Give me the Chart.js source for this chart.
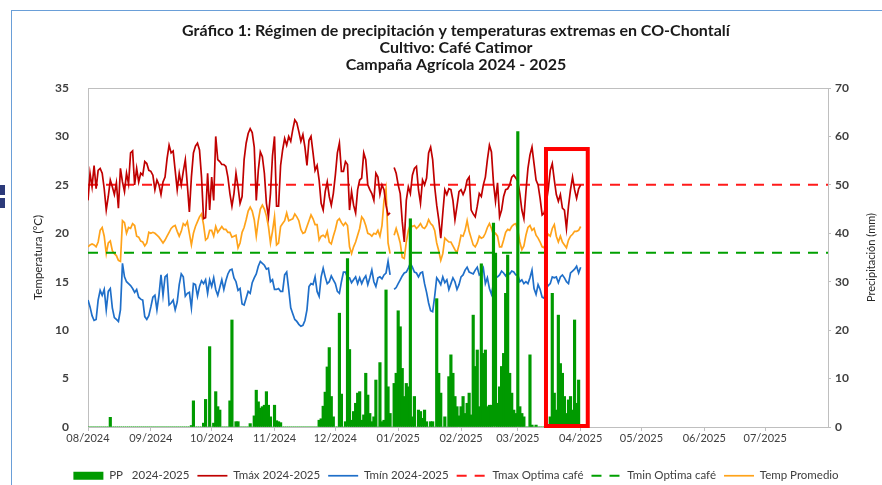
<!DOCTYPE html>
<html>
<head>
<meta charset="utf-8">
<title>Gráfico 1 - CO-Chontalí</title>
<script src="https://cdn.jsdelivr.net/npm/chart.js@4.4.1/dist/chart.umd.min.js"></script>
<style>
html, body { margin: 0; padding: 0; background: #fff; }
#wrap { position: relative; width: 882px; height: 485px; overflow: hidden; }
#frame { position: absolute; left: 11px; top: 10px; right: -2px; bottom: -2px;
         border-left: 1px solid #6a9fd8; border-top: 1px solid #6a9fd8; }
.mark { position: absolute; left: 0; width: 5px; height: 10px; background: #2c3a7a; }
#chart { position: absolute; left: 0; top: 0; }
</style>
</head>
<body>
<div id="wrap">
  <div id="frame"></div>
  <div class="mark" style="top:185px"></div>
  <div class="mark" style="top:198px"></div>
  <canvas id="chart" width="882" height="485"></canvas>
</div>
<script>
// etiquetas del eje x (inicio de cada mes, en dias desde 01/08/2024)
var monthLabels = ['08/2024', '09/2024', '10/2024', '11/2024', '12/2024', '01/2025',
                   '02/2025', '03/2025', '04/2025', '05/2025', '06/2025', '07/2025'];
var monthStarts = [0, 31, 61, 92, 122, 153, 184, 212, 243, 273, 304, 334];
var campaignDays = 365;

// temperaturas optimas del cafe
var tmaxOptima = 25;
var tminOptima = 18;

// temperatura maxima diaria (°C), 01/08/2024 - 01/04/2025
var tmax = [
  23.4, 26.2, 24.8, 27.0, 24.6, 26.5, 26.7, 26.2, 24.6, 22.4, 23.8, 25.5, 24.8, 24.0, 25.2, 22.6, 26.7, 25.3, 24.3, 26.2, 25.1, 28.3, 28.5, 25.0, 26.7, 25.3, 26.2, 26.0, 27.4, 27.2, 26.5, // ago
  26.4, 26.0, 24.5, 25.5, 25.0, 24.0, 25.3, 25.8, 27.7, 29.1, 28.3, 28.5, 26.5, 24.5, 26.2, 25.0, 26.4, 27.6, 25.0, 22.2, 25.8, 28.3, 29.0, 29.3, 28.6, 25.8, 21.5, 21.6, 26.2, 22.4, // sep
  25.8, 23.4, 30.0, 27.6, 27.4, 27.1, 27.1, 26.9, 25.8, 24.1, 22.8, 24.1, 26.2, 24.8, 23.1, 23.8, 27.6, 29.3, 30.3, 30.8, 30.4, 28.9, 23.4, 26.5, 28.4, 27.9, 26.2, 23.1, 21.7, 24.1, 28.0, // oct
  30.0, 22.8, 22.8, 27.0, 28.6, 29.8, 29.1, 30.0, 29.5, 30.7, 31.7, 31.4, 30.5, 29.5, 30.2, 28.9, 27.0, 29.6, 30.0, 28.3, 26.5, 27.0, 25.5, 23.1, 22.4, 24.3, 25.3, 23.8, 22.9, 24.1, // nov
  26.0, 28.3, 29.3, 26.4, 26.4, 27.4, 27.1, 22.4, 24.3, 22.9, 22.1, 24.5, 25.5, 25.7, 28.3, 27.6, 25.0, 24.5, 24.1, 23.4, 26.2, 25.8, 24.0, 25.0, 24.5, 22.9, 21.9, 22.1, null, 26.8, 26.2, // dic
  25.0, 24.1, 21.2, 19.1, 23.4, 24.8, 24.1, 26.0, 26.7, 26.9, 24.5, 23.1, 25.5, 25.0, 25.7, 28.3, 28.9, 27.6, 24.8, 22.9, 21.4, 19.5, 22.1, 24.5, 24.0, 24.6, 24.5, 23.4, 21.4, 22.8, 24.3, // ene
  24.5, 24.0, 24.5, 25.5, 25.8, 22.4, 22.0, 21.7, 22.8, 24.1, 23.8, 25.0, 25.8, 27.6, 29.1, 28.4, 25.2, 23.3, 25.2, 21.7, 22.4, 23.8, 24.5, 24.6, 25.0, 25.8, 26.0, 25.7, // feb
  25.4, 24.1, 22.4, 21.5, 24.3, 26.7, 28.1, 28.9, 27.2, 25.5, 25.0, 23.6, 21.9, 22.1, 23.1, 24.5, 26.5, 27.2, 25.5, 24.0, 23.3, 24.0, 22.6, 22.4, 20.5, 22.8, 24.5, 25.8, 24.5, 23.6, 24.6, 25.0  // mar + 01/04
];

// temperatura minima diaria (°C)
var tmin = [
  13.1, 12.4, 11.5, 11.0, 11.1, 13.1, 14.1, 13.6, 14.2, 12.1, 14.0, 14.3, 12.3, 11.3, 11.1, 10.9, 12.1, 16.9, 15.5, 15.0, 14.8, 14.6, 14.3, 13.9, 14.2, 13.4, 13.2, 13.1, 11.4, 11.1, 11.5,
  12.4, 13.4, 13.6, 12.1, 13.6, 15.7, 13.6, 15.5, 15.7, 12.6, 12.8, 13.1, 12.1, 12.9, 14.7, 15.8, 15.5, 13.5, 13.8, 13.9, 12.3, 14.8, 14.7, 13.5, 14.5, 15.1, 14.8, 15.2, 13.8, 15.2,
  14.5, 15.4, 14.2, 13.6, 14.4, 15.2, 14.2, 15.1, 15.8, 16.2, 16.3, 15.4, 15.0, 14.1, 14.3, 12.7, 12.6, 13.3, 14.0, 13.8, 14.9, 15.4, 15.8, 16.6, 17.1, 16.9, 16.7, 16.3, 16.4, 15.0, 15.2,
  14.2, 14.2, 14.3, 14.0, 14.0, 15.7, 16.0, 14.2, 12.3, 11.7, 11.1, 10.9, 10.6, 10.4, 10.5, 11.0, 12.1, 14.5, 14.8, 14.7, 15.5, 14.0, 13.5, 15.5, 16.4, 15.5, 14.8, 15.0, 15.6, 15.2,
  14.8, 14.0, 13.8, 15.0, 16.0, 16.0, 15.4, 15.4, 14.9, 15.2, 15.5, 14.8, 15.4, 14.8, 15.3, 15.6, 14.7, 15.4, 16.2, 15.0, 14.5, 15.4, 15.5, 15.3, 15.7, 15.9, 17.1, 15.7, null, 14.2, 14.4,
  14.8, 15.2, 15.6, 15.9, 16.0, 16.4, 16.9, 16.5, 16.0, 15.9, 15.5, 15.9, 16.0, 14.8, 13.9, 12.8, 12.0, 11.9, 13.5, 15.4, 15.1, 14.7, 15.5, 14.9, 15.2, 14.2, 14.8, 15.4, 15.0, 14.2, 14.7,
  15.5, 15.7, 16.2, 16.5, 16.0, 15.9, 15.8, 16.2, 16.5, 15.7, 15.9, 16.4, 14.8, 15.4, 14.3, 13.7, 14.8, 15.5, 15.5, 15.7, 16.1, 15.9, 15.6, 16.0, 15.8, 16.1, 16.0, 15.7,
  15.7, 15.0, 15.2, 14.8, 15.0, 14.8, 15.4, 16.2, 14.3, 13.7, 14.7, 14.2, 13.4, 13.3, 14.3, 14.6, 14.8, 15.5, 15.4, 15.5, 14.9, 15.5, 15.7, 15.4, 15.0, 14.8, 15.9, 16.1, 16.3, 16.6, 15.9, 16.5
];

// temperatura promedio diaria (°C)
var tprom = [
  18.6, 18.8, 18.9, 18.8, 18.6, 19.1, 20.3, 20.6, 19.7, 17.9, 19.0, 19.2, 18.2, 17.9, 17.7, 17.2, 17.1, 21.3, 21.1, 20.0, 20.6, 20.5, 21.0, 20.8, 19.7, 19.6, 19.2, 19.1, 18.7, 19.0, 20.1,
  20.0, 20.1, 20.0, 19.8, 19.6, 19.3, 19.0, 19.3, 19.7, 20.1, 20.5, 20.7, 20.8, 20.2, 19.7, 20.2, 21.0, 20.8, 21.2, 20.0, 18.8, 20.0, 20.7, 21.2, 21.7, 22.0, 20.9, 19.3, 19.5, 20.3,
  20.3, 19.7, 20.7, 20.1, 20.4, 20.7, 20.4, 20.4, 20.1, 20.1, 19.6, 19.7, 19.8, 18.5, 19.0, 20.1, 20.6, 21.4, 22.3, 22.7, 22.3, 21.4, 19.7, 21.3, 22.5, 22.9, 22.5, 21.8, 20.7, 19.0, 20.2,
  21.7, 18.8, 19.0, 20.7, 21.0, 21.3, 22.1, 21.3, 21.4, 21.5, 22.0, 21.7, 21.3, 20.4, 20.0, 20.1, 20.7, 21.3, 21.9, 21.5, 20.9, 20.9, 19.3, 19.7, 19.8, 19.6, 20.2, 19.1, 18.9, 19.7,
  20.4, 21.3, 21.5, 21.1, 20.8, 21.1, 20.8, 18.6, 17.9, 18.6, 19.1, 19.8, 20.5, 21.7, 21.4, 20.8, 20.0, 19.9, 19.7, 20.0, 19.9, 20.3, 19.7, 20.8, 23.4, 24.6, 19.0, 17.9, null, 19.8, 20.5,
  19.8, 19.0, 17.5, 17.4, 19.1, 20.3, 20.9, 20.7, 20.8, 20.5, 20.7, 21.0, 20.6, 20.5, 20.8, 21.4, 21.0, 20.8, 20.3, 19.0, 18.2, 17.2, 17.9, 19.5, 19.3, 19.1, 19.1, 18.7, 18.3, 18.0, 18.8,
  19.8, 19.7, 20.3, 21.3, 20.2, 19.5, 18.8, 18.6, 19.0, 19.7, 19.5, 19.6, 20.0, 20.6, 21.0, 20.5, 19.8, 20.0, 19.7, 18.6, 18.6, 19.3, 20.1, 20.4, 20.3, 20.7, 20.9, 21.0,
  20.3, 19.1, 18.3, 18.7, 19.8, 20.6, 20.8, 20.3, 20.5, 19.8, 19.5, 19.1, 18.6, 18.5, 19.3, 19.9, 19.7, 20.5, 20.9, 19.7, 19.1, 19.7, 19.1, 18.8, 18.5, 19.3, 19.7, 19.9, 20.2, 20.2, 20.3, 20.7
];

// precipitacion diaria (mm)
var pp = [
  0, 0, 0, 0, 0, 0, 0, 0, 0, 0, 0, 2.0, 0, 0, 0, 0, 0, 0, 0, 0, 0, 0, 0, 0, 0, 0, 0, 0, 0, 0, 0,
  0, 0, 0, 0, 0, 0, 0, 0, 0, 0, 0, 0, 0, 0, 0, 0, 0, 0, 0, 0, 0.3, 5.4, 0, 0, 0, 0, 0.8, 5.7, 0, 16.6,
  0, 0.8, 7.3, 4.2, 3.5, 0, 0, 0, 0, 5.4, 22.1, 0, 1.1, 1.1, 0, 0, 0, 0, 0, 0.7, 0, 2.3, 7.6, 5.2, 3.9, 4.2, 4.5, 7.3, 4.5, 2.1, 0,
  4.5, 1.3, 1.1, 0.9, 0, 0, 0, 0, 0, 0, 0, 0, 0, 0, 0, 0, 0, 0, 0, 0, 0, 0, 1.4, 1.7, 4.3, 7.2, 12.4, 16.4, 6.3, 2.1,
  0, 0, 23.5, 6.8, 0, 1.1, 34.8, 16.0, 1.4, 3.2, 4.9, 7.0, 7.3, 1.4, 2.5, 11.1, 6.6, 2.8, 1.1, 2.1, 9.7, 0, 13.3, 1.1, 1.4, 28.3, 8.3, 2.8, 0, 9.0, 11.1,
  24.0, 20.7, 12.1, 6.3, 9.0, 8.3, 43.0, 2.1, 6.3, 0, 3.5, 3.2, 1.8, 3.5, 1.1, 0, 1.1, 1.1, 0, 26.5, 11.1, 7.0, 0, 2.1, 0, 10.4, 14.9, 11.1, 6.3, 4.2, 2.3,
  4.2, 6.3, 2.8, 4.9, 7.0, 2.5, 23.1, 12.5, 15.9, 4.2, 33.7, 15.2, 15.9, 4.2, 4.5, 4.5, 42.1, 35.9, 4.9, 8.3, 12.5, 15.2, 27.6, 35.5, 11.1, 7.0, 3.5, 2.8,
  61.0, 4.2, 2.8, 2.1, 0, 0, 14.9, 0.4, 0, 0.4, 0, 0, 0, 0, 0, 0, 2.1, 27.6, 7.0, 3.5, 23.1, 13.1, 11.1, 6.3, 2.8, 5.6, 6.3, 3.5, 22.1, 4.9, 9.7, 0
];

// recuadro rojo: ultimas semanas de la campaña
var highlightFrom = 225.9;
var highlightTo = 246.5;
var highlightTop = 28.7;

function toPoints(values) {
  return values.map(function (v, i) { return { x: i, y: v }; });
}

function flatLine(value) {
  return [{ x: 0, y: value }, { x: campaignDays, y: value }];
}

Chart.defaults.font.family = 'Lato, "Open Sans", sans-serif';
Chart.defaults.color = '#404040';

var axisGray = '#bfbfbf';

// marco superior del area de trazado + titulo del eje derecho + recuadro rojo
var extras = {
  id: 'extras',
  beforeDatasetsDraw: function (chart) {
    var a = chart.chartArea, ctx = chart.ctx;
    ctx.save();
    ctx.strokeStyle = axisGray;
    ctx.lineWidth = 1;
    ctx.beginPath();
    ctx.moveTo(a.left, a.top + 0.5);
    ctx.lineTo(a.right, a.top + 0.5);
    ctx.stroke();
    ctx.restore();
  },
  afterDatasetsDraw: function (chart) {
    var x = chart.scales.x, y = chart.scales.y, ctx = chart.ctx;
    var left = x.getPixelForValue(highlightFrom);
    var right = x.getPixelForValue(highlightTo);
    var top = y.getPixelForValue(highlightTop);
    var bottom = y.getPixelForValue(0) - 1;
    ctx.save();
    ctx.strokeStyle = '#ff0000';
    ctx.lineWidth = 4;
    ctx.strokeRect(left, top, right - left, bottom - top);
    ctx.restore();
  },
  afterDraw: function (chart) {
    var a = chart.chartArea, ctx = chart.ctx;
    ctx.save();
    ctx.translate(chart.scales.y1.right - 11, (a.top + a.bottom) / 2);
    ctx.rotate(-Math.PI / 2);
    ctx.font = '11px Lato, "Open Sans", sans-serif';
    ctx.fillStyle = '#262626';
    ctx.textAlign = 'center';
    ctx.textBaseline = 'middle';
    ctx.fillText('Precipitación (mm)', 0, 0);
    ctx.restore();
  }
};

new Chart(document.getElementById('chart'), {
  type: 'line',
  data: {
    datasets: [
      {
        type: 'bar',
        label: 'PP   2024-2025',
        data: toPoints(pp),
        yAxisID: 'y1',
        backgroundColor: '#009a00',
        borderColor: '#009a00',
        borderWidth: 0,
        barThickness: 2.5
      },
      {
        label: 'Tmáx 2024-2025',
        data: toPoints(tmax),
        borderColor: '#c00000',
        borderWidth: 1.7,
        pointRadius: 0
      },
      {
        label: 'Tmín 2024-2025',
        data: toPoints(tmin),
        borderColor: '#1f6fc9',
        borderWidth: 1.7,
        pointRadius: 0
      },
      {
        label: 'Tmax Optima café',
        data: flatLine(tmaxOptima),
        borderColor: '#ff1a1a',
        borderWidth: 2,
        borderDash: [10, 8],
        pointRadius: 0
      },
      {
        label: 'Tmin Optima café',
        data: flatLine(tminOptima),
        borderColor: '#00a000',
        borderWidth: 2,
        borderDash: [10, 8],
        pointRadius: 0
      },
      {
        label: 'Temp Promedio',
        data: toPoints(tprom),
        borderColor: '#ffa31a',
        borderWidth: 1.7,
        pointRadius: 0
      }
    ]
  },
  options: {
    responsive: false,
    animation: false,
    devicePixelRatio: 1,
    spanGaps: false,
    layout: { padding: { left: 30, right: 0, top: 22.5, bottom: 0 } },
    plugins: {
      tooltip: { enabled: false },
      title: {
        display: true,
        text: ['Gráfico 1: Régimen de precipitación y temperaturas extremas en CO-Chontalí',
               'Cultivo: Café Catimor',
               'Campaña Agrícola 2024 - 2025'],
        color: '#1a1a1a',
        font: { size: 16, weight: 'bold', lineHeight: 17 / 16 },
        padding: { top: 0, bottom: 14.5 }
      },
      legend: {
        position: 'bottom',
        maxHeight: 23,
        labels: {
          usePointStyle: true,
          pointStyleWidth: 30,
          boxHeight: 8,
          padding: 8,
          color: '#404040',
          font: { size: 11.5 },
          generateLabels: function (chart) {
            return chart.data.datasets.map(function (ds, i) {
              var isBar = ds.type === 'bar';
              return {
                text: ds.label,
                fillStyle: isBar ? ds.backgroundColor : 'rgba(0,0,0,0)',
                strokeStyle: ds.borderColor,
                lineWidth: isBar ? 0 : ds.borderWidth,
                lineDash: ds.borderDash || [],
                pointStyle: isBar ? 'rect' : 'line',
                fontColor: '#404040',
                hidden: false,
                datasetIndex: i
              };
            });
          }
        }
      }
    },
    scales: {
      x: {
        type: 'linear',
        offset: false,
        min: 0,
        max: campaignDays,
        afterBuildTicks: function (axis) {
          axis.ticks = monthStarts.map(function (v) { return { value: v }; });
        },
        afterFit: function (axis) { axis.height = 35; },
        ticks: {
          autoSkip: false,
          maxRotation: 0,
          padding: 1,
          color: '#404040',
          font: { size: 11 },
          callback: function (value) {
            var i = monthStarts.indexOf(value);
            return i >= 0 ? monthLabels[i] : '';
          }
        },
        grid: { drawOnChartArea: false, offset: false, tickLength: 4, color: axisGray },
        border: { color: axisGray }
      },
      y: {
        position: 'left',
        min: 0,
        max: 35,
        afterFit: function (axis) { axis.width = 58; },
        ticks: { stepSize: 5, padding: 11, color: '#404040', font: { size: 12, weight: 'bold' } },
        grid: { display: false },
        border: { display: true, color: axisGray },
        title: {
          display: true,
          text: 'Temperatura (°C)',
          color: '#262626',
          font: { size: 11.5 },
          padding: { top: 1, bottom: 0 }
        }
      },
      y1: {
        position: 'right',
        min: 0,
        max: 70,
        afterFit: function (axis) { axis.width = 54; },
        ticks: { stepSize: 10, padding: 4, color: '#404040', font: { size: 12, weight: 'bold' } },
        grid: { drawOnChartArea: false, tickLength: 3, color: axisGray },
        border: { color: axisGray }
      }
    }
  },
  plugins: [extras]
});
</script>
</body>
</html>
